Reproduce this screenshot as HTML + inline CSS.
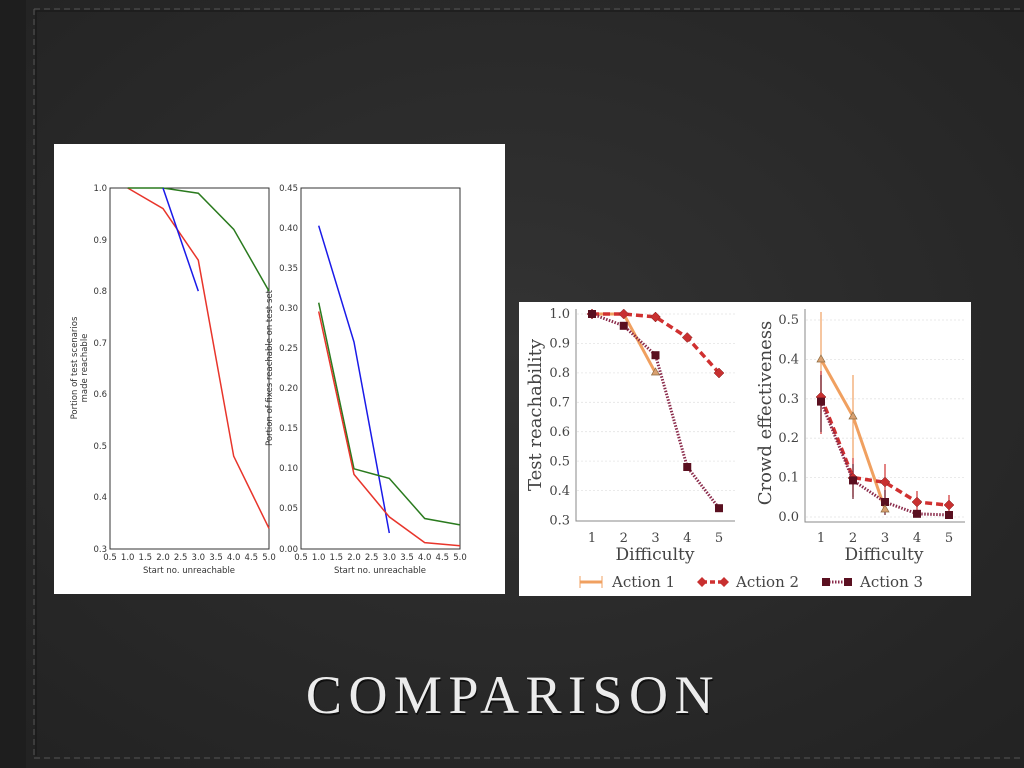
<!DOCTYPE html>
<html><head><meta charset="utf-8"><style>
html,body{margin:0;padding:0;width:1024px;height:768px;overflow:hidden;background:#2b2b2b}
</style></head><body>
<svg width="1024" height="768" xmlns="http://www.w3.org/2000/svg" style="display:block">
<defs>
<radialGradient id="bg" cx="50%" cy="45%" r="70%"><stop offset="0" stop-color="#333"/><stop offset="1" stop-color="#232323"/></radialGradient>
</defs>
<rect width="1024" height="768" fill="url(#bg)"/>
<rect x="0" y="0" width="26" height="768" fill="#1e1e1e"/>
<line x1="34" y1="9" x2="34" y2="758" stroke="#555" stroke-width="1" stroke-dasharray="6,4"/>
<line x1="34" y1="9" x2="1024" y2="9" stroke="#555" stroke-width="1" stroke-dasharray="6,4"/>
<line x1="34" y1="758" x2="1024" y2="758" stroke="#555" stroke-width="1" stroke-dasharray="6,4"/>
<line x1="36" y1="11" x2="36" y2="756" stroke="#151515" stroke-width="1"/>
<line x1="36" y1="11" x2="1024" y2="11" stroke="#151515" stroke-width="1"/>

<!-- LEFT IMAGE -->
<rect x="54" y="144" width="451" height="450" fill="#fff"/>
<g font-family="DejaVu Sans, sans-serif" font-size="8.5" fill="#333">
<rect x="110" y="188" width="159" height="361" fill="none" stroke="#333" stroke-width="1"/>
<rect x="301" y="188" width="159" height="361" fill="none" stroke="#333" stroke-width="1"/>
<g text-anchor="end">
<text x="107" y="191">1.0</text><text x="107" y="243">0.9</text><text x="107" y="294">0.8</text><text x="107" y="346">0.7</text><text x="107" y="397">0.6</text><text x="107" y="449">0.5</text><text x="107" y="500">0.4</text><text x="107" y="552">0.3</text>
<text x="298" y="191">0.45</text><text x="298" y="231">0.40</text><text x="298" y="271">0.35</text><text x="298" y="311">0.30</text><text x="298" y="351">0.25</text><text x="298" y="391">0.20</text><text x="298" y="431">0.15</text><text x="298" y="471">0.10</text><text x="298" y="511">0.05</text><text x="298" y="552">0.00</text>
</g>
<g text-anchor="middle">
<text x="110" y="560">0.5</text><text x="127.7" y="560">1.0</text><text x="145.3" y="560">1.5</text><text x="163" y="560">2.0</text><text x="180.7" y="560">2.5</text><text x="198.3" y="560">3.0</text><text x="216" y="560">3.5</text><text x="233.7" y="560">4.0</text><text x="251.3" y="560">4.5</text><text x="269" y="560">5.0</text>
<text x="301" y="560">0.5</text><text x="318.7" y="560">1.0</text><text x="336.3" y="560">1.5</text><text x="354" y="560">2.0</text><text x="371.7" y="560">2.5</text><text x="389.3" y="560">3.0</text><text x="407" y="560">3.5</text><text x="424.7" y="560">4.0</text><text x="442.3" y="560">4.5</text><text x="460" y="560">5.0</text>
<text x="189" y="573">Start no. unreachable</text>
<text x="380" y="573">Start no. unreachable</text>
<text transform="translate(77,368) rotate(-90)">Portion of test scenarios</text>
<text transform="translate(87,368) rotate(-90)">made reachable</text>
<text transform="translate(272,368) rotate(-90)">Portion of fixes reachable on test set</text>
</g>
</g>
<g fill="none" stroke-width="1.5">
<polyline stroke="#e8352b" points="127.7,188 163,208.6 198.3,260.2 233.7,456.2 269,528.4"/>
<polyline stroke="#2a7a1e" points="127.7,188 163,188 198.3,193.2 233.7,229.3 269,291.1"/>
<polyline stroke="#1a1ae8" points="163,188 198.3,291.1"/>
<polyline stroke="#1a1ae8" points="318.7,225.7 354,342 389.3,533"/>
<polyline stroke="#2a7a1e" points="318.7,302.7 354,468.8 389.3,478.4 424.7,518.5 460,524.9"/>
<polyline stroke="#e8352b" points="318.7,311.5 354,474.4 389.3,516.9 424.7,542.6 460,545.8"/>
</g>

<!-- RIGHT IMAGE -->
<rect x="519" y="302" width="452" height="294" fill="#fff"/>
<g stroke="#e4e4e4" stroke-dasharray="2,2" stroke-width="0.8">
<line x1="577" x2="735" y1="314" y2="314"/><line x1="577" x2="735" y1="343.4" y2="343.4"/><line x1="577" x2="735" y1="372.9" y2="372.9"/><line x1="577" x2="735" y1="402.3" y2="402.3"/><line x1="577" x2="735" y1="431.7" y2="431.7"/><line x1="577" x2="735" y1="461.1" y2="461.1"/><line x1="577" x2="735" y1="490.6" y2="490.6"/>
<line x1="806" x2="965" y1="320" y2="320"/><line x1="806" x2="965" y1="359.4" y2="359.4"/><line x1="806" x2="965" y1="398.8" y2="398.8"/><line x1="806" x2="965" y1="438.2" y2="438.2"/><line x1="806" x2="965" y1="477.6" y2="477.6"/><line x1="806" x2="965" y1="517" y2="517"/>
</g>
<g stroke="#888" stroke-width="1" fill="none">
<polyline points="576,309 576,521 735,521"/>
<polyline points="805,309 805,522 965,522"/>
</g>
<g font-family="DejaVu Serif, Liberation Serif, serif" fill="#444" font-size="13">
<g text-anchor="end">
<text x="570" y="318">1.0</text><text x="570" y="347.5">0.9</text><text x="570" y="377">0.8</text><text x="570" y="406.5">0.7</text><text x="570" y="436">0.6</text><text x="570" y="465.5">0.5</text><text x="570" y="495">0.4</text><text x="570" y="524.5">0.3</text>
<text x="799" y="324">0.5</text><text x="799" y="363.5">0.4</text><text x="799" y="403">0.3</text><text x="799" y="442">0.2</text><text x="799" y="481.5">0.1</text><text x="799" y="521">0.0</text>
</g>
<g text-anchor="middle">
<text x="592" y="542">1</text><text x="623.75" y="542">2</text><text x="655.5" y="542">3</text><text x="687.25" y="542">4</text><text x="719" y="542">5</text>
<text x="821" y="542">1</text><text x="853" y="542">2</text><text x="885" y="542">3</text><text x="917" y="542">4</text><text x="949" y="542">5</text>
<text x="655" y="560" font-size="17">Difficulty</text>
<text x="884" y="560" font-size="17">Difficulty</text>
<text transform="translate(541,415) rotate(-90)" font-size="18">Test reachability</text>
<text transform="translate(771,413) rotate(-90)" font-size="18">Crowd effectiveness</text>
</g>
<text x="612" y="587" font-size="15">Action 1</text>
<text x="736" y="587" font-size="15">Action 2</text>
<text x="860" y="587" font-size="15">Action 3</text>
</g>
<!-- error bars -->
<g stroke-width="1.2">
<line x1="821" x2="821" y1="312" y2="403" stroke="#f0a060"/><line x1="853" x2="853" y1="375" y2="458" stroke="#f0a060"/>
<line x1="821" x2="821" y1="371" y2="434" stroke="#d03030"/><line x1="853" x2="853" y1="458" y2="497" stroke="#d03030"/><line x1="885" x2="885" y1="464" y2="501" stroke="#d03030"/><line x1="917" x2="917" y1="491" y2="511" stroke="#d03030"/><line x1="949" x2="949" y1="495" y2="513" stroke="#d03030"/>
<line x1="821" x2="821" y1="375" y2="432" stroke="#6a1a2a"/><line x1="853" x2="853" y1="464" y2="499" stroke="#6a1a2a"/><line x1="885" x2="885" y1="490" y2="515" stroke="#6a1a2a"/>
</g>
<g fill="none">
<polyline stroke="#f0a060" stroke-width="3" points="592,314 623.75,314 655.5,372.9"/>
<polyline stroke="#f0a060" stroke-width="3" points="821,359.4 853,416.5 885,509.1"/>
<polyline stroke="#d03030" stroke-width="3.5" stroke-dasharray="7,4" points="592,314 623.75,314 655.5,316.9 687.25,337.5 719,372.9"/>
<polyline stroke="#d03030" stroke-width="3.5" stroke-dasharray="7,4" points="821,396.8 853,477.6 885,482.3 917,502 949,505.2"/>
<polyline stroke="#8a2a4a" stroke-width="3" stroke-dasharray="1.5,1.5" points="592,314 623.75,325.8 655.5,355.2 687.25,467 719,508.2"/>
<polyline stroke="#8a2a4a" stroke-width="3" stroke-dasharray="1.5,1.5" points="821,401.6 853,480.4 885,502 917,513.8 949,515"/>
</g>
<g fill="#c83030" stroke="#802020" stroke-width="0.5">
<path d="M592,309l5,5l-5,5l-5,-5z"/><path d="M623.75,309l5,5l-5,5l-5,-5z"/><path d="M655.5,312l5,5l-5,5l-5,-5z"/><path d="M687.25,332.5l5,5l-5,5l-5,-5z"/><path d="M719,368l5,5l-5,5l-5,-5z"/>
<path d="M821,392l5,5l-5,5l-5,-5z"/><path d="M853,473l5,5l-5,5l-5,-5z"/><path d="M885,477l5,5l-5,5l-5,-5z"/><path d="M917,497l5,5l-5,5l-5,-5z"/><path d="M949,500l5,5l-5,5l-5,-5z"/>
</g>
<g fill="#5a1020">
<rect x="588" y="310" width="8" height="8"/><rect x="619.75" y="321.8" width="8" height="8"/><rect x="651.5" y="351.2" width="8" height="8"/><rect x="683.25" y="463" width="8" height="8"/><rect x="715" y="504.2" width="8" height="8"/>
<rect x="817" y="397.6" width="8" height="8"/><rect x="849" y="476.4" width="8" height="8"/><rect x="881" y="498" width="8" height="8"/><rect x="913" y="509.8" width="8" height="8"/><rect x="945" y="511" width="8" height="8"/>
</g>
<g fill="#d9a070" stroke="#8a6a40" stroke-width="0.7">
<path d="M655.5,368l4,7h-8z"/><path d="M821,355l4,7h-8z"/><path d="M853,412l4,7h-8z"/><path d="M885,505l4,7h-8z"/>
</g>
<!-- legend -->
<line x1="580" x2="602" y1="582" y2="582" stroke="#f0a060" stroke-width="3"/>
<line x1="580" x2="580" y1="576" y2="588" stroke="#f0a060"/><line x1="602" x2="602" y1="576" y2="588" stroke="#f0a060"/>
<line x1="702" x2="724" y1="582" y2="582" stroke="#d03030" stroke-width="3.5" stroke-dasharray="5,3"/>
<path d="M702,577l5,5l-5,5l-5,-5zM724,577l5,5l-5,5l-5,-5z" fill="#c83030"/>
<line x1="826" x2="848" y1="582" y2="582" stroke="#8a2a4a" stroke-width="3" stroke-dasharray="1.5,1.5"/>
<rect x="822" y="578" width="8" height="8" fill="#5a1020"/><rect x="844" y="578" width="8" height="8" fill="#5a1020"/>

<!-- Title -->
<text x="514" y="715" text-anchor="middle" font-family="Liberation Serif, serif" font-size="54" fill="#000" opacity="0.6" letter-spacing="6.5">COMPARISON</text>
<text x="513" y="713" text-anchor="middle" font-family="Liberation Serif, serif" font-size="54" fill="#ececec" letter-spacing="6.5">COMPARISON</text>
</svg>
</body></html>
